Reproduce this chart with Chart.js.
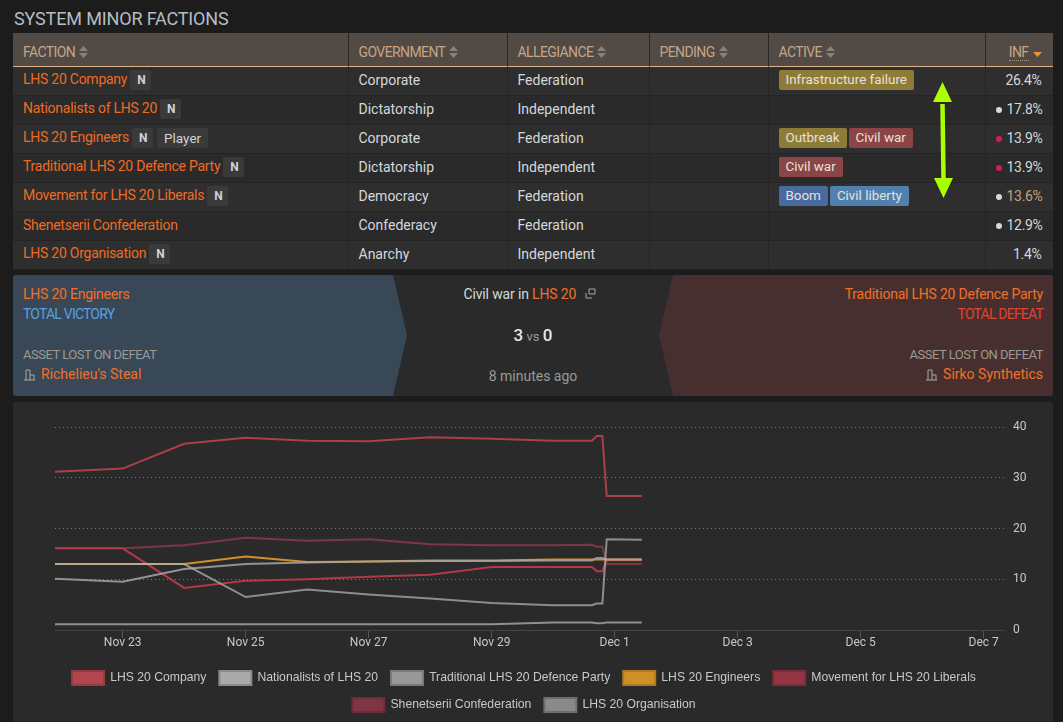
<!DOCTYPE html>
<html><head><meta charset="utf-8"><title>System minor factions</title>
<script src="https://cdn.jsdelivr.net/npm/chart.js@4/dist/chart.umd.min.js"></script>
<style>
html,body{margin:0;padding:0;width:1063px;height:722px;overflow:hidden;background:#1c1c1c;color:#d4d8dc;font:14px Roboto,sans-serif}
h2{position:absolute;left:14px;top:8px;margin:0;font:400 18px Roboto,sans-serif;color:#b5bcc4;letter-spacing:-.15px}
table{position:absolute;left:13px;top:33px;width:1039.5px;table-layout:fixed;border-collapse:separate;border-spacing:0}
th{box-sizing:border-box;background:#524a44;color:#c5a585;font-weight:400;font-size:14px;letter-spacing:-.6px;text-align:left;padding:4px 10px 0;border-right:1px solid #2a2622;border-bottom:1px solid #e0b48a;height:34px;white-space:nowrap}
th:last-child,td:last-child{border-right:0;text-align:right;padding-right:11px}
td{height:29px;box-sizing:border-box;padding:0 10px 2px;border-right:1px solid #252525;border-bottom:1px solid #242424;white-space:nowrap}
tr:nth-child(even) td{background:#2a2a2a}
tr:nth-child(odd) td{background:#2e2e2e}
td:last-child{letter-spacing:-.3px}
.f{color:#f06a22;letter-spacing:-.25px}
.b{display:inline-block;background:#3a3a3a;border-radius:2px;height:20px;line-height:20px;padding:0 7px;margin-left:4px;font-size:13.5px;vertical-align:middle;color:#cdd2d8}
.n{font-weight:700;font-size:12px;margin-left:3px;width:7px;text-align:center}
.t{display:inline-block;border-radius:2px;height:20px;line-height:20px;padding:0 7px;margin-right:2px;font-size:13.4px;color:#e6e2d8;vertical-align:middle}
.dot{display:inline-block;width:6px;height:6px;border-radius:50%;margin-right:5px;vertical-align:1px}
.s{display:inline-block;margin-left:4px;vertical-align:-1px}
.inf{border-bottom:1px dotted #a09080}
.w{position:absolute;top:275px;height:121px;left:13px;width:1040px;background:#2a2a2a;border-radius:3px;overflow:hidden}
.w svg.bg{position:absolute;left:0;top:0}
.w div{position:absolute;white-space:nowrap}
.caps{font-size:14px;letter-spacing:-.8px}
.asset{font-size:13px;letter-spacing:-.5px;color:#9a9a94}
#wrap{position:absolute;left:13px;top:402px;width:1040px;height:320px;background:#2a2a2a;border-radius:3px 3px 0 0}
#arrow{position:absolute;left:0;top:0;pointer-events:none}
</style></head><body>
<h2>SYSTEM MINOR FACTIONS</h2>
<table id="tb"><colgroup><col style="width:335.5px"><col style="width:159px"><col style="width:142px"><col style="width:119px"><col style="width:217px"><col></colgroup><thead><tr id="hd"></tr></thead><tbody id="bd"></tbody></table>
<div class="w">
<svg class="bg" width="1040" height="121"><polygon points="0,0 380,0 394,60 380,121 0,121" fill="#394856"/><polygon points="660,0 1040,0 1040,121 660,121 646,60" fill="#482f2f"/></svg>
<div style="left:10px;top:11px;color:#f07028;letter-spacing:-.22px" id="wl"></div>
<div class="caps" style="left:10px;top:31px;color:#5a9fe0">TOTAL VICTORY</div>
<div class="asset" style="left:10px;top:72px">ASSET LOST ON DEFEAT</div>
<div style="left:10px;top:91px;color:#f07028"><svg width="13" height="13" viewBox="0 0 13 13" style="vertical-align:-2px;margin-right:5px" fill="none" stroke="#a8a8a8"><path d="M3 12V2h4v10M7 7h4v5M1 12h11"/></svg>Richelieu's Steal</div>
<div style="left:396.5px;width:240px;top:11px;text-align:center;letter-spacing:-.15px"><span>Civil war in </span><span style="color:#f07028">LHS 20</span> <svg width="11" height="11" viewBox="0 0 11 11" style="margin-left:5px" fill="none" stroke="#a8a8a8"><path d="M4 1h6v5H4zM1 5v5h6"/></svg></div>
<div style="left:400px;width:240px;top:50px;text-align:center;font-size:13px;color:#9a9a94"><b style="font-size:17px;font-weight:500;color:#e6e6e6">3</b> vs <b style="font-size:17px;font-weight:500;color:#e6e6e6">0</b></div>
<div style="left:400px;width:240px;top:93px;text-align:center;color:#9a9a94">8 minutes ago</div>
<div style="right:10px;top:11px;color:#f07028;letter-spacing:-.22px" id="wr"></div>
<div class="caps" style="right:10px;top:31px;color:#e0442a">TOTAL DEFEAT</div>
<div class="asset" style="right:10px;top:72px">ASSET LOST ON DEFEAT</div>
<div style="right:10px;top:91px;color:#f07028"><svg width="13" height="13" viewBox="0 0 13 13" style="vertical-align:-2px;margin-right:5px" fill="none" stroke="#a8a8a8"><path d="M3 12V2h4v10M7 7h4v5M1 12h11"/></svg>Sirko Synthetics</div>
</div>
<div id="wrap"><canvas id="c" width="1040" height="320" style="display:block;width:1040px;height:320px"></canvas></div>
<svg id="arrow" width="1063" height="722"><path d="M942.5 104 L943.5 178" stroke="#aaff00" stroke-width="4.5" fill="none"/><polygon points="942.5,82 933,102 952,102" fill="#aaff00"/><polygon points="943.5,198 934,178 953,178" fill="#aaff00"/></svg>
<script>
// ---- table content ----
const factions=["LHS 20 Company","Nationalists of LHS 20","LHS 20 Engineers","Traditional LHS 20 Defence Party","Movement for LHS 20 Liberals","Shenetserii Confederation","LHS 20 Organisation"];
const hasN=[true,true,true,true,true,false,true];
const governments=["Corporate","Dictatorship","Corporate","Dictatorship","Democracy","Confederacy","Anarchy"];
const allegiances=["Federation","Independent","Federation","Independent","Federation","Federation","Independent"];
const activeStates=[["Infrastructure failure"],[],["Outbreak","Civil war"],["Civil war"],["Boom","Civil liberty"],[],[]];
const influence=["26.4%","17.8%","13.9%","13.9%","13.6%","12.9%","1.4%"];
const headers=["FACTION","GOVERNMENT","ALLEGIANCE","PENDING","ACTIVE","INF"];
const tagColors={"Infrastructure failure":"#8f7b38","Outbreak":"#8f7b38","Civil war":"#8b4547","Boom":"#496a9e","Civil liberty":"#5080ae"};
const dots=[null,"#d8d8d8","#d0204f","#d0204f","#d8d8d8","#d8d8d8",null];
// ---- chart data ----
const dayX=[21.9,23,24,25,26,27,28,29,30,30.63,30.71,30.8,30.87,31.44];
const companySeries=[31.2,31.8,36.7,37.9,37.3,37.2,38.0,37.7,37.3,37.3,38.25,38.25,26.4,26.4];
const nationalistsSeries=[13,13,13,6.5,8.0,7.0,6.2,5.3,4.9,4.9,5.2,5.2,17.9,17.8];
const traditionalSeries=[10.1,9.5,12.0,13.0,13.3,13.5,13.6,13.6,13.7,13.7,14.2,14.2,13.9,13.9];
const engineersSeries=[13,13,13,14.5,13.4,13.5,13.7,13.7,13.9,13.9,13.9,13.9,13.9,13.9];
const liberalsSeries=[16.1,16.1,8.3,9.7,10.0,10.5,10.9,12.4,12.4,12.4,11.6,11.6,13.75,13.75];
const shenetseriiSeries=[16.1,16.1,16.7,18.2,17.6,17.9,16.9,16.7,16.7,16.8,16.4,16.4,13.0,13.0];
const organisationSeries=[1.15,1.15,1.15,1.15,1.15,1.15,1.15,1.15,1.5,1.5,1.35,1.35,1.5,1.5];
const yTickValues=[0,10,20,30,40];
const xTickDays=[23,25,27,29,31,33,35,37];
const xTickLabels=["Nov 23","Nov 25","Nov 27","Nov 29","Dec 1","Dec 3","Dec 5","Dec 7"];
const seriesNames=["LHS 20 Company","Nationalists of LHS 20","Traditional LHS 20 Defence Party","LHS 20 Engineers","Movement for LHS 20 Liberals","Shenetserii Confederation","LHS 20 Organisation"];
const seriesValues=[companySeries,nationalistsSeries,traditionalSeries,engineersSeries,liberalsSeries,shenetseriiSeries,organisationSeries];
const lineColors=["#ad3e4a","rgba(180,180,180,.72)","rgba(165,165,165,.85)","#d09028","#b03a48","#7e3545","#909090"];
const fillColors=["#b2464f","#aaaaaa","#999999","#d09028","#933543","#803545","#8a8a8a"];
const edgeColors=["#983a44","#8a8a8a","#7a7a7a","#b07a20","#7a2c38","#6a2c38","#6e6e6e"];

// build table
const sortIcon=on=>on?'<svg class="s" width="9" height="6" viewBox="0 0 9 6"><polygon points="0,0 9,0 4.5,5" fill="#f0952c"/></svg>':'<svg class="s" width="9" height="12" viewBox="0 0 9 12"><polygon points="4.5,0 9,5 0,5" fill="#8a8078"/><polygon points="4.5,12 9,7 0,7" fill="#8a8078"/></svg>';
document.getElementById('hd').innerHTML=headers.map((h,i)=>i==5?`<th><span class="inf">${h}</span>${sortIcon(true)}</th>`:`<th>${h}${sortIcon(false)}</th>`).join('');
document.getElementById('bd').innerHTML=factions.map((f,i)=>`<tr><td><span class="f">${f}</span>${hasN[i]?'<span class="b n">N</span>':''}${f=="LHS 20 Engineers"?'<span class="b">Player</span>':''}</td><td>${governments[i]}</td><td>${allegiances[i]}</td><td></td><td>${activeStates[i].map(t=>`<span class="t" style="background:${tagColors[t]}">${t}</span>`).join('')}</td><td>${dots[i]?`<span class="dot" style="background:${dots[i]}"></span>`:''}<span${i==4?' style="color:#c7a07c"':''}>${influence[i]}</span></td></tr>`).join('');
document.getElementById('wl').textContent=factions[2];
document.getElementById('wr').textContent=factions[3];

new Chart(document.getElementById('c'),{
 type:'line',
 data:{datasets:seriesNames.map((n,i)=>({label:n,data:dayX.map((x,j)=>({x,y:seriesValues[i][j]})),borderColor:lineColors[i],backgroundColor:fillColors[i],borderWidth:2,pointRadius:0,tension:0,fill:false,legendFill:fillColors[i],legendEdge:edgeColors[i]}))},
 options:{
  responsive:false,animation:false,devicePixelRatio:1,
  layout:{padding:{left:0,top:25,right:18,bottom:0}},
  scales:{
   x:{type:'linear',min:21.9,max:37.33,
      afterBuildTicks:s=>{s.ticks=xTickDays.map(v=>({value:v}));},
      afterFit:s=>{s.height=28;},
      grid:{drawOnChartArea:false,drawTicks:true,tickLength:8,tickColor:'#555',color:'#555'},
      border:{display:true,color:'#444',width:1},
      ticks:{autoSkip:false,maxRotation:0,padding:-2,color:'#c8c8c8',font:{family:'Roboto',size:12},callback:v=>xTickLabels[xTickDays.indexOf(v)]}},
   y:{position:'right',min:0,max:40,
      afterBuildTicks:s=>{s.ticks=yTickValues.map(v=>({value:v}));},
      afterFit:s=>{s.width=31;},
      grid:{drawTicks:false,color:c=>c.tick&&c.tick.value===0?'rgba(0,0,0,0)':'rgba(255,255,255,.38)',lineWidth:1},
      border:{display:false,dash:[1,3]},
      ticks:{padding:9,color:'#c8c8c8',font:{family:'Roboto',size:12},callback:v=>String(v)}},
   gutter:{axis:'y',type:'linear',position:'left',min:0,max:40,
      afterFit:s=>{s.width=42;},
      grid:{display:false},border:{display:false},ticks:{display:false}}
  },
  plugins:{
   tooltip:{enabled:false},
   legend:{position:'bottom',labels:{boxWidth:32,boxHeight:14,padding:13,color:'#c8c8c8',font:{family:'"Liberation Sans"',size:12.2},
     generateLabels:c=>c.data.datasets.map((d,i)=>({text:d.label,fillStyle:d.legendFill,strokeStyle:d.legendEdge,lineWidth:2,datasetIndex:i,fontColor:'#c8c8c8'}))}}
  }
 }
});
</script>
</body></html>
